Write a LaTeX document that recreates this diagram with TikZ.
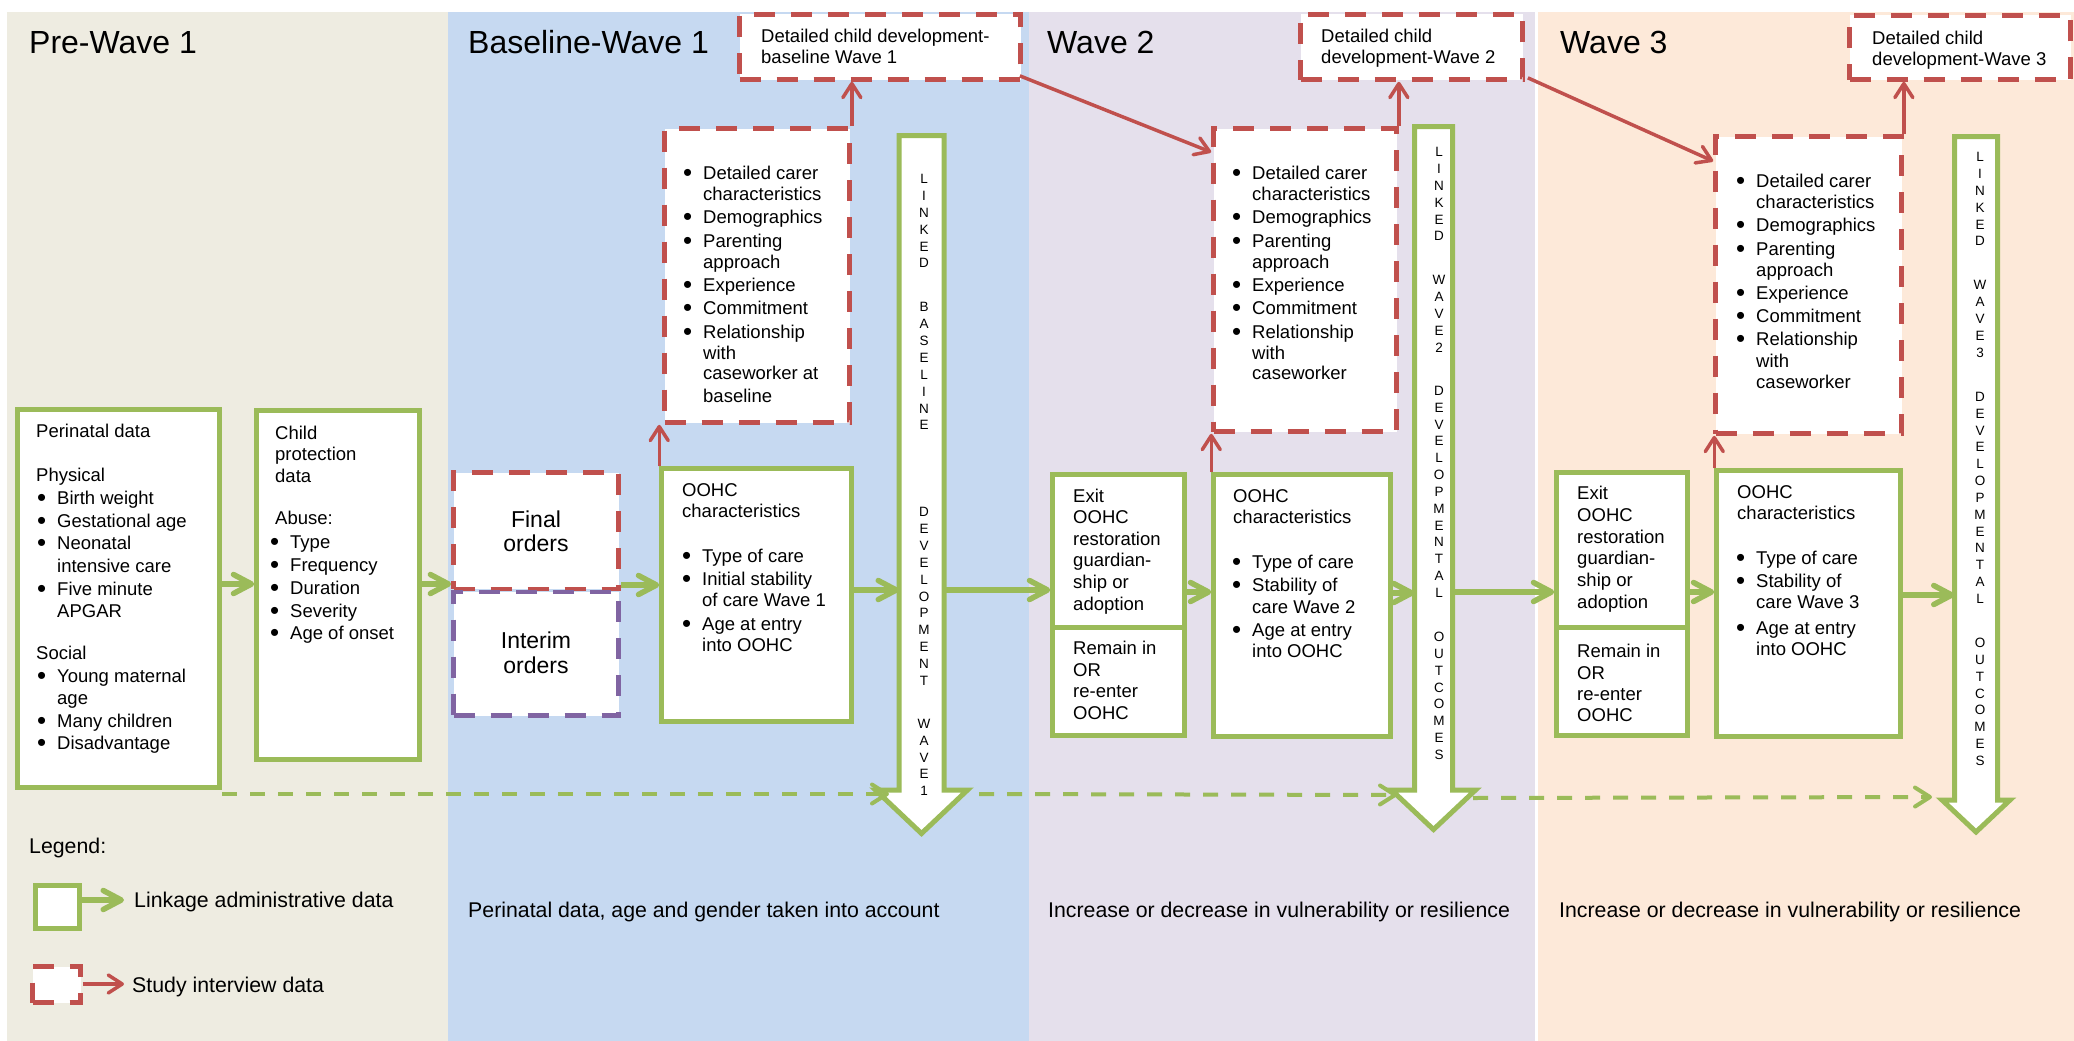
\documentclass[tikz,border=0pt]{standalone}
\usepackage{fontspec}
\setmainfont{Liberation Sans}
\usepackage{graphicx}
\usetikzlibrary{arrows.meta,calc}
\definecolor{cGreen}{HTML}{9BBB59}
\definecolor{cRed}{HTML}{C0504D}
\definecolor{cPurple}{HTML}{8064A2}
\definecolor{cBeige}{HTML}{EEECE1}
\definecolor{cBlue}{HTML}{C6D9F1}
\definecolor{cLav}{HTML}{E5E0EC}
\definecolor{cPeach}{HTML}{FDE9D9}
\newcommand\bul{\llap{\raisebox{-0.12em}{\scalebox{1.4}{•}}\hspace{11pt}}}
\newcommand\mkbox[6]{\node[#2, minimum width={(#5-#3)*1pt}, minimum height={(#6-#4)*1pt}] (#1) at ({(#3+#5)/2},{(#4+#6)/2}) {};}
\newcommand\putlines[3]{\foreach \x/\y/\t [count=\i] in {#3} {\node[#2] (#1-\i) at (\x,\y) {\t};}}
\begin{document}
\begin{tikzpicture}[x=1pt,y=-1pt,
  gbox/.style={rectangle, draw=cGreen, line width=4.5pt, fill=white, inner sep=0},
  rbox/.style={rectangle, draw=cRed, line width=4.7pt, dash pattern=on 21pt off 16pt, fill=white, inner sep=0},
  pbox/.style={rectangle, draw=cPurple, line width=4.7pt, dash pattern=on 21pt off 16pt, fill=white, inner sep=0},
  shaft/.style={rectangle, draw=none, inner sep=0, outer sep=0},
  bigar/.style={draw=cGreen, line width=5pt, fill=white, line join=miter},
  garrow/.style={draw=cGreen, line width=5.5pt, -{Straight Barb[length=18pt,width=19pt,round]}},
  rarrow/.style={draw=cRed, line width=3.5pt, -{Straight Barb[length=14pt,width=18pt,round]}},
  gdash/.style={draw=cGreen, line width=4pt, dash pattern=on 15pt off 13pt, -{Straight Barb[length=15pt,width=19pt,round]}},
  txt/.style={anchor=base west, inner sep=0, font=\fontsize{18.5}{21.5}\selectfont},
  ord/.style={anchor=base, inner sep=0, font=\fontsize{23}{27}\selectfont},
  title/.style={anchor=base west, inner sep=0, font=\fontsize{32}{38}\selectfont},
  note/.style={anchor=base west, inner sep=0, font=\fontsize{21.3}{25}\selectfont},
  stack/.style={anchor=north, align=center, inner sep=0, font=\fontsize{13.5}{16.85}\selectfont}]
% canvas and bands
\useasboundingbox (0,0) rectangle (2074,1041);
\fill[white] (0,0) rectangle (2074,1041);
\fill[cBeige] (7,12) rectangle (448,1041);
\fill[cBlue] (448,12) rectangle (1029,1041);
\fill[cLav] (1029,12) rectangle (1535,1041);
\fill[cPeach] (1538,12) rectangle (2074,1041);
% titles
\node[title] (tPre) at (29,53) {Pre-Wave 1};
\node[title] (tBase) at (468,53) {Baseline-Wave 1};
\node[title] (tW2) at (1047,53) {Wave 2};
\node[title] (tW3) at (1560,53) {Wave 3};
% big linked arrows
\node[shaft, minimum width=45pt, minimum height=654.5pt] (shA) at (921.5,462.75) {};
\draw[bigar] (shA.north west) -- (shA.south west) -- ++(-23.5,0) -- ($(shA.south)+(0,43.5)$) -- ($(shA.south east)+(23.5,0)$) -- (shA.south east) -- (shA.north east) -- cycle;
\node[shaft, minimum width=38pt, minimum height=663.5pt] (shB) at (1433.5,458.25) {};
\draw[bigar] (shB.north west) -- (shB.south west) -- ++(-23,0) -- ($(shB.south)+(0,39.5)$) -- ($(shB.south east)+(23,0)$) -- (shB.south east) -- (shB.north east) -- cycle;
\node[shaft, minimum width=43pt, minimum height=663.5pt] (shC) at (1976,468.25) {};
\draw[bigar] (shC.north west) -- (shC.south west) -- ++(-12.5,0) -- ($(shC.south)+(0,32)$) -- ($(shC.south east)+(12.5,0)$) -- (shC.south east) -- (shC.north east) -- cycle;
\node[stack] (lA) at (924,174.2) {L\\I\\N\\K\\E\\D\\[27.15pt]B\\A\\S\\E\\L\\I\\N\\E\\[70.15pt]D\\E\\V\\E\\L\\O\\P\\M\\E\\N\\T\\[26.15pt]W\\A\\V\\E\\1};
\node[stack] (lB) at (1439,147.2) {L\\I\\N\\K\\E\\D\\[27.15pt]W\\A\\V\\E\\2\\[26.15pt]D\\E\\V\\E\\L\\O\\P\\M\\E\\N\\T\\A\\L\\[27.15pt]O\\U\\T\\C\\O\\M\\E\\S};
\node[stack] (lC) at (1980,152.2) {L\\I\\N\\K\\E\\D\\[27.15pt]W\\A\\V\\E\\3\\[27.15pt]D\\E\\V\\E\\L\\O\\P\\M\\E\\N\\T\\A\\L\\[27.15pt]O\\U\\T\\C\\O\\M\\E\\S};
% boxes
\mkbox{peri}{gbox}{17.5}{409.5}{219.5}{787.5}
\mkbox{cp}{gbox}{256.5}{410.5}{419.5}{759.5}
\mkbox{final}{rbox}{453.5}{472.5}{618.5}{589}
\mkbox{interim}{pbox}{453.5}{592}{618.5}{715.5}
\mkbox{oohcA}{gbox}{661.5}{468.5}{851.5}{721.5}
\mkbox{carerA}{rbox}{664.5}{128.5}{849.5}{422.5}
\mkbox{dcdA}{rbox}{739.5}{14.5}{1020.5}{79.5}
\mkbox{exitB}{gbox}{1052.5}{474.5}{1184.5}{627.5}
\mkbox{remB}{gbox}{1052.5}{627.5}{1184.5}{735.5}
\mkbox{oohcB}{gbox}{1213.5}{474.5}{1390.5}{736.5}
\mkbox{carerB}{rbox}{1213.5}{128.5}{1396.5}{431.5}
\mkbox{dcdB}{rbox}{1300.5}{14.5}{1522.5}{79.5}
\mkbox{exitC}{gbox}{1556.5}{472.5}{1687.5}{627.5}
\mkbox{remC}{gbox}{1556.5}{627.5}{1687.5}{735.5}
\mkbox{oohcC}{gbox}{1716.5}{470.5}{1900.5}{736.5}
\mkbox{carerC}{rbox}{1715.5}{136.5}{1901.5}{433.5}
\mkbox{dcdC}{rbox}{1849.5}{15.5}{2070.5}{79.5}
\mkbox{legG}{gbox}{35.5}{885.5}{79.5}{928.5}
\mkbox{legR}{rbox}{32.5}{966.5}{80.5}{1002.5}
% box texts
\putlines{periT}{txt}{36/437.5/Perinatal data, 36/481/Physical, 57/504/{\bul Birth weight}, 57/527/{\bul Gestational age}, 57/549.5/{\bul Neonatal}, 57/572/intensive care, 57/595/{\bul Five minute}, 57/617/APGAR, 36/659/Social, 57/682/{\bul Young maternal}, 57/704/age, 57/727/{\bul Many children}, 57/749/{\bul Disadvantage}}
\putlines{cpT}{txt}{275/439/Child, 275/460.5/protection, 275/482/data, 275/524.5/Abuse:, 290/548/{\bul Type}, 290/571/{\bul Frequency}, 290/594/{\bul Duration}, 290/617/{\bul Severity}, 290/639/{\bul Age of onset}}
\node[ord] (finalT1) at (536,527.5) {Final};
\node[ord] (finalT2) at (536,551.5) {orders};
\node[ord] (interimT1) at (536,648.5) {Interim};
\node[ord] (interimT2) at (536,673) {orders};
\putlines{oohcAT}{txt}{682/496.5/OOHC, 682/517.5/characteristics, 702/562.5/{\bul Type of care}, 702/585.5/{\bul Initial stability}, 702/606.5/of care Wave 1, 702/630/{\bul Age at entry}, 702/651/into OOHC}
\putlines{carerAT}{txt}{703/179.5/{\bul Detailed carer}, 703/200.5/characteristics, 703/223.5/{\bul Demographics}, 703/247.5/{\bul Parenting}, 703/268.5/approach, 703/291.5/{\bul Experience}, 703/314.5/{\bul Commitment}, 703/338.5/{\bul Relationship}, 703/359.5/with, 703/379.5/caseworker at, 703/402.5/baseline}
\putlines{dcdAT}{txt}{761/42.5/Detailed child development-, 761/63.5/baseline Wave 1}
\putlines{exitBT}{txt}{1073/502.5/Exit, 1073/523.5/OOHC, 1073/545.5/restoration, 1073/566.5/guardian-, 1073/588.5/ship or, 1073/610.5/adoption, 1073/654/Remain in, 1073/676/OR, 1073/697.5/re-enter, 1073/719/OOHC}
\putlines{oohcBT}{txt}{1233/502.5/OOHC, 1233/523.5/characteristics, 1252/568.5/{\bul Type of care}, 1252/591.5/{\bul Stability of}, 1252/613.5/care Wave 2, 1252/636.5/{\bul Age at entry}, 1252/657.5/into OOHC}
\putlines{carerBT}{txt}{1252/179.5/{\bul Detailed carer}, 1252/200.5/characteristics, 1252/223.5/{\bul Demographics}, 1252/247.5/{\bul Parenting}, 1252/268.5/approach, 1252/291.5/{\bul Experience}, 1252/314.5/{\bul Commitment}, 1252/338.5/{\bul Relationship}, 1252/359.5/with, 1252/379.5/caseworker}
\putlines{dcdBT}{txt}{1321/42.5/Detailed child, 1321/63.5/development-Wave 2}
\putlines{exitCT}{txt}{1577/499/Exit, 1577/521/OOHC, 1577/543.5/restoration, 1577/564.5/guardian-, 1577/586.5/ship or, 1577/608.5/adoption, 1577/657.5/Remain in, 1577/679/OR, 1577/700/re-enter, 1577/721.5/OOHC}
\putlines{oohcCT}{txt}{1737/498.5/OOHC, 1737/519/characteristics, 1756/564.5/{\bul Type of care}, 1756/587.5/{\bul Stability of}, 1756/608.5/care Wave 3, 1756/634/{\bul Age at entry}, 1756/655/into OOHC}
\putlines{carerCT}{txt}{1756/187.5/{\bul Detailed carer}, 1756/208.5/characteristics, 1756/231.5/{\bul Demographics}, 1756/255.5/{\bul Parenting}, 1756/276.5/approach, 1756/299.5/{\bul Experience}, 1756/322.5/{\bul Commitment}, 1756/345.5/{\bul Relationship}, 1756/367.5/with, 1756/388.5/caseworker}
\putlines{dcdCT}{txt}{1872/44.5/Detailed child, 1872/65.5/development-Wave 3}
% notes and legend
\node[note] (noteA) at (468,917.5) {Perinatal data, age and gender taken into account};
\node[note] (noteB) at (1048,917.5) {Increase or decrease in vulnerability or resilience};
\node[note] (noteC) at (1559,917.5) {Increase or decrease in vulnerability or resilience};
\node[note] (legT) at (29,853) {Legend:};
\node[note] (legGT) at (134,907.5) {Linkage administrative data};
\node[note] (legRT) at (132,992) {Study interview data};
% green flow arrows
\coordinate (rA) at (0,584);
\coordinate (rB) at (0,585);
\coordinate (rC) at (0,590);
\coordinate (rD) at (0,592);
\coordinate (rE) at (0,593);
\coordinate (rF) at (0,595);
\draw[garrow] (peri.east |- rA) -- (cp.west |- rA);
\draw[garrow] (cp.east |- rA) -- (final.west |- rA);
\draw[garrow] (final.east |- rB) -- (oohcA.west |- rB);
\draw[garrow] (oohcA.east |- rC) -- (shA.west |- rC);
\draw[garrow] (shA.east |- rC) -- (exitB.west |- rC);
\draw[garrow] (exitB.east |- rD) -- (oohcB.west |- rD);
\draw[garrow] (oohcB.east |- rE) -- (shB.west |- rE);
\draw[garrow] (shB.east |- rD) -- (exitC.west |- rD);
\draw[garrow] (exitC.east |- rD) -- (oohcC.west |- rD);
\draw[garrow] (oohcC.east |- rF) -- (shC.west |- rF);
% red arrows
\draw[rarrow] (oohcA.north west) -- (oohcA.north west |- carerA.south);
\draw[rarrow] (carerA.north east) -- (carerA.north east |- dcdA.south);
\draw[rarrow] (oohcB.north west) -- (oohcB.north west |- carerB.south);
\draw[rarrow] (carerB.north east) -- (carerB.north east |- dcdB.south);
\draw[rarrow] (oohcC.north west) -- (oohcC.north west |- carerC.south);
\draw[rarrow] (carerC.north east) -- (carerC.north east |- dcdC.south);
\draw[rarrow] ($(dcdA.south east)+(-3,-6)$) -- ($(carerB.north west)+(0,26)$);
\draw[rarrow] ($(dcdB.south east)+(3,-4)$) -- ($(carerC.north west)+(0,27)$);
% dashed linkage line
\coordinate (dAs) at (222,794);
\coordinate (dAe) at (889,794);
\coordinate (dBs) at (979,794);
\coordinate (dBe) at (1397,795);
\coordinate (dCs) at (1473,798);
\coordinate (dCe) at (1932,797);
\draw[gdash] (dAs) -- (dAe);
\draw[gdash] (dBs) -- (dBe);
\draw[gdash] (dCs) -- (dCe);
% legend arrows
\coordinate (legGe) at (124,900);
\coordinate (legRe) at (124,984);
\draw[garrow] (legG.east |- legGe) -- (legGe);
\draw[rarrow] (legR.east |- legRe) -- (legRe);
\end{tikzpicture}
\end{document}
